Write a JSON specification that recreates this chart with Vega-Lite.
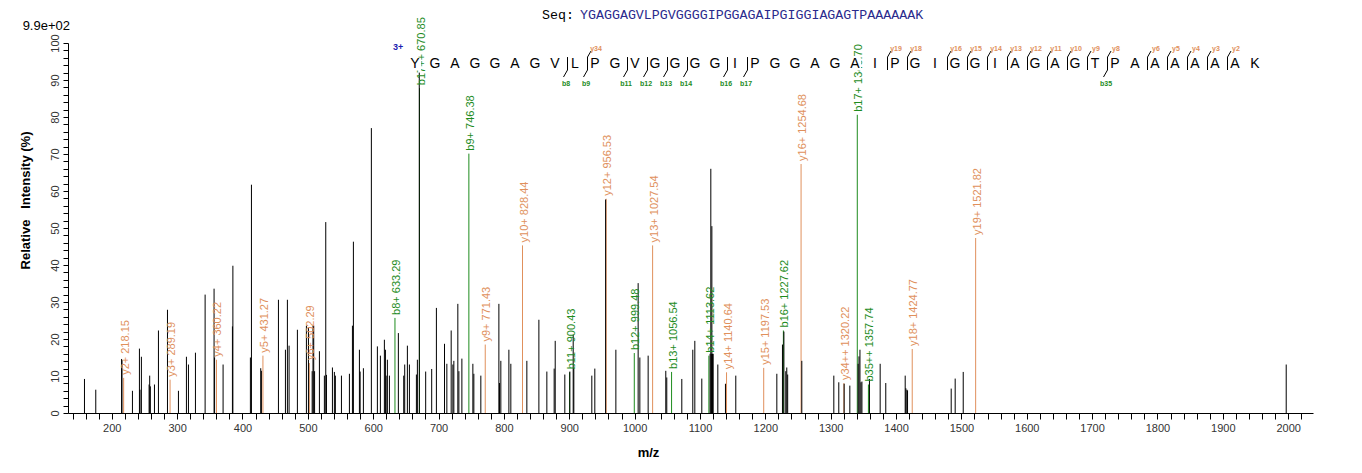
{
  "$schema": "https://vega.github.io/schema/vega-lite/v6.json",
  "width": 1245,
  "height": 370,
  "autosize": {"type": "none"},
  "padding": {"left": 68, "top": 43, "right": 49, "bottom": 60},
  "background": "white",
  "config": {
    "view": {"stroke": null},
    "font": "Liberation Sans",
    "text": {"font": "Liberation Sans"}
  },
  "datasets": {
    "peaks": [
      {"mz": 158.2, "intensity": 9.2}, {"mz": 175.5, "intensity": 6.3}, {"mz": 215.0, "intensity": 14.6}, {"mz": 215.6, "intensity": 14.3},
      {"mz": 231.6, "intensity": 6.0}, {"mz": 242.3, "intensity": 17.4}, {"mz": 243.2, "intensity": 6.3}, {"mz": 245.3, "intensity": 15.2},
      {"mz": 257.1, "intensity": 7.7}, {"mz": 258.0, "intensity": 10.1}, {"mz": 259.0, "intensity": 7.2}, {"mz": 265.3, "intensity": 7.7},
      {"mz": 271.4, "intensity": 22.3}, {"mz": 285.2, "intensity": 27.9}, {"mz": 302.0, "intensity": 6.0}, {"mz": 314.2, "intensity": 15.2},
      {"mz": 317.3, "intensity": 13.1}, {"mz": 328.0, "intensity": 16.3}, {"mz": 342.8, "intensity": 32.0}, {"mz": 356.5, "intensity": 33.6},
      {"mz": 357.3, "intensity": 15.0}, {"mz": 370.3, "intensity": 13.1}, {"mz": 384.6, "intensity": 23.4}, {"mz": 385.3, "intensity": 39.8},
      {"mz": 412.1, "intensity": 15.0}, {"mz": 413.7, "intensity": 61.7}, {"mz": 427.9, "intensity": 12.1}, {"mz": 428.9, "intensity": 11.4},
      {"mz": 455.0, "intensity": 30.6}, {"mz": 465.7, "intensity": 17.1}, {"mz": 468.7, "intensity": 30.6}, {"mz": 471.3, "intensity": 18.2},
      {"mz": 484.0, "intensity": 22.5}, {"mz": 497.8, "intensity": 23.6}, {"mz": 500.9, "intensity": 23.0}, {"mz": 506.6, "intensity": 11.3},
      {"mz": 507.9, "intensity": 23.6}, {"mz": 509.0, "intensity": 23.6}, {"mz": 510.3, "intensity": 11.3}, {"mz": 517.7, "intensity": 16.7},
      {"mz": 525.3, "intensity": 10.1}, {"mz": 527.4, "intensity": 51.6}, {"mz": 528.5, "intensity": 10.3}, {"mz": 537.6, "intensity": 12.3},
      {"mz": 540.6, "intensity": 11.1}, {"mz": 542.1, "intensity": 10.1}, {"mz": 551.4, "intensity": 10.1}, {"mz": 563.6, "intensity": 10.6},
      {"mz": 568.2, "intensity": 23.6}, {"mz": 569.7, "intensity": 46.3}, {"mz": 578.9, "intensity": 17.1}, {"mz": 580.0, "intensity": 11.2},
      {"mz": 585.0, "intensity": 12.1}, {"mz": 597.2, "intensity": 77.0}, {"mz": 606.4, "intensity": 18.0}, {"mz": 611.0, "intensity": 15.5},
      {"mz": 617.1, "intensity": 19.8}, {"mz": 618.7, "intensity": 17.1}, {"mz": 619.8, "intensity": 10.1}, {"mz": 621.7, "intensity": 14.4},
      {"mz": 624.8, "intensity": 10.1}, {"mz": 638.5, "intensity": 21.6}, {"mz": 646.7, "intensity": 10.1}, {"mz": 648.2, "intensity": 13.1},
      {"mz": 652.3, "intensity": 18.2}, {"mz": 655.4, "intensity": 13.1}, {"mz": 666.1, "intensity": 10.4}, {"mz": 667.6, "intensity": 14.4},
      {"mz": 670.5, "intensity": 92.0}, {"mz": 680.3, "intensity": 11.2}, {"mz": 689.5, "intensity": 11.9}, {"mz": 696.7, "intensity": 28.4},
      {"mz": 709.1, "intensity": 18.7}, {"mz": 712.7, "intensity": 13.3}, {"mz": 719.3, "intensity": 22.3}, {"mz": 721.9, "intensity": 13.1},
      {"mz": 723.4, "intensity": 14.1}, {"mz": 729.5, "intensity": 29.5}, {"mz": 731.1, "intensity": 11.3}, {"mz": 735.7, "intensity": 14.7},
      {"mz": 752.5, "intensity": 13.3}, {"mz": 754.0, "intensity": 10.6}, {"mz": 764.7, "intensity": 10.1}, {"mz": 792.3, "intensity": 29.5},
      {"mz": 793.3, "intensity": 8.1}, {"mz": 795.3, "intensity": 14.1}, {"mz": 807.6, "intensity": 17.1}, {"mz": 810.6, "intensity": 13.3},
      {"mz": 835.1, "intensity": 14.1}, {"mz": 853.5, "intensity": 25.2}, {"mz": 865.7, "intensity": 11.2}, {"mz": 876.9, "intensity": 12.0},
      {"mz": 878.5, "intensity": 19.5}, {"mz": 893.2, "intensity": 10.4}, {"mz": 900.9, "intensity": 11.2}, {"mz": 906.0, "intensity": 21.2},
      {"mz": 907.0, "intensity": 12.2}, {"mz": 934.5, "intensity": 10.1}, {"mz": 939.1, "intensity": 12.0}, {"mz": 955.6, "intensity": 57.7},
      {"mz": 971.3, "intensity": 17.1}, {"mz": 1005.4, "intensity": 35.1}, {"mz": 1008.0, "intensity": 15.0}, {"mz": 1020.7, "intensity": 15.5},
      {"mz": 1047.7, "intensity": 11.4}, {"mz": 1049.2, "intensity": 9.6}, {"mz": 1072.2, "intensity": 9.2}, {"mz": 1089.0, "intensity": 17.1},
      {"mz": 1092.1, "intensity": 19.5}, {"mz": 1102.8, "intensity": 9.3}, {"mz": 1115.5, "intensity": 16.0}, {"mz": 1116.6, "intensity": 66.0},
      {"mz": 1117.5, "intensity": 16.0}, {"mz": 1118.2, "intensity": 50.5}, {"mz": 1119.2, "intensity": 16.0}, {"mz": 1120.2, "intensity": 16.0},
      {"mz": 1127.3, "intensity": 13.1}, {"mz": 1139.0, "intensity": 7.9}, {"mz": 1154.8, "intensity": 10.1}, {"mz": 1217.6, "intensity": 10.6},
      {"mz": 1226.2, "intensity": 18.5}, {"mz": 1228.4, "intensity": 22.0}, {"mz": 1231.3, "intensity": 11.3}, {"mz": 1232.8, "intensity": 12.3},
      {"mz": 1234.2, "intensity": 10.4}, {"mz": 1255.8, "intensity": 14.1}, {"mz": 1304.8, "intensity": 10.1}, {"mz": 1312.4, "intensity": 8.3},
      {"mz": 1320.6, "intensity": 7.9}, {"mz": 1329.3, "intensity": 7.4}, {"mz": 1342.0, "intensity": 13.3}, {"mz": 1343.3, "intensity": 15.3},
      {"mz": 1344.8, "intensity": 17.1}, {"mz": 1346.3, "intensity": 8.3}, {"mz": 1347.8, "intensity": 8.5}, {"mz": 1359.3, "intensity": 9.2},
      {"mz": 1375.7, "intensity": 13.3}, {"mz": 1384.3, "intensity": 8.1}, {"mz": 1414.0, "intensity": 10.1}, {"mz": 1415.0, "intensity": 6.7},
      {"mz": 1416.6, "intensity": 6.3}, {"mz": 1417.6, "intensity": 6.1}, {"mz": 1484.4, "intensity": 6.6}, {"mz": 1490.5, "intensity": 9.3},
      {"mz": 1502.8, "intensity": 11.1}, {"mz": 1997.0, "intensity": 13.1}
    ],
    "ions": [
      {"ion": "y2+", "series": "y", "mz": 218.15, "intensity": 9.5},
      {"ion": "y3+", "series": "y", "mz": 289.19, "intensity": 9.0},
      {"ion": "y4+", "series": "y", "mz": 360.22, "intensity": 14.4},
      {"ion": "y5+", "series": "y", "mz": 431.27, "intensity": 15.5},
      {"ion": "y6+", "series": "y", "mz": 502.29, "intensity": 13.5},
      {"ion": "b8+", "series": "b", "mz": 633.29, "intensity": 25.7},
      {"ion": "b17++", "series": "b", "mz": 670.85, "intensity": 87.8},
      {"ion": "b9+", "series": "b", "mz": 746.38, "intensity": 70.1},
      {"ion": "y9+", "series": "y", "mz": 771.43, "intensity": 18.5},
      {"ion": "y10+", "series": "y", "mz": 828.44, "intensity": 45.3},
      {"ion": "b11+", "series": "b", "mz": 900.43, "intensity": 11.0},
      {"ion": "y12+", "series": "y", "mz": 956.53, "intensity": 57.9},
      {"ion": "b12+", "series": "b", "mz": 999.48, "intensity": 16.2},
      {"ion": "y13+", "series": "y", "mz": 1027.54, "intensity": 45.3},
      {"ion": "b13+", "series": "b", "mz": 1056.54, "intensity": 11.1},
      {"ion": "b14+", "series": "b", "mz": 1113.62, "intensity": 15.5},
      {"ion": "y14+", "series": "y", "mz": 1140.64, "intensity": 11.0},
      {"ion": "y15+", "series": "y", "mz": 1197.53, "intensity": 12.2},
      {"ion": "b16+", "series": "b", "mz": 1227.62, "intensity": 22.3},
      {"ion": "y16+", "series": "y", "mz": 1254.68, "intensity": 67.3},
      {"ion": "y34++", "series": "y", "mz": 1320.22, "intensity": 8.1},
      {"ion": "b17+", "series": "b", "mz": 1340.70, "intensity": 80.6},
      {"ion": "b35++", "series": "b", "mz": 1357.74, "intensity": 7.7},
      {"ion": "y18+", "series": "y", "mz": 1424.77, "intensity": 17.3},
      {"ion": "y19+", "series": "y", "mz": 1521.82, "intensity": 47.3}
    ],
    "residues": [
      {"i": 0, "aa": "Y"}, {"i": 1, "aa": "G"}, {"i": 2, "aa": "A"}, {"i": 3, "aa": "G"}, {"i": 4, "aa": "G"},
      {"i": 5, "aa": "A"}, {"i": 6, "aa": "G"}, {"i": 7, "aa": "V"}, {"i": 8, "aa": "L"}, {"i": 9, "aa": "P"},
      {"i": 10, "aa": "G"}, {"i": 11, "aa": "V"}, {"i": 12, "aa": "G"}, {"i": 13, "aa": "G"}, {"i": 14, "aa": "G"},
      {"i": 15, "aa": "G"}, {"i": 16, "aa": "I"}, {"i": 17, "aa": "P"}, {"i": 18, "aa": "G"}, {"i": 19, "aa": "G"},
      {"i": 20, "aa": "A"}, {"i": 21, "aa": "G"}, {"i": 22, "aa": "A"}, {"i": 23, "aa": "I"}, {"i": 24, "aa": "P"},
      {"i": 25, "aa": "G"}, {"i": 26, "aa": "I"}, {"i": 27, "aa": "G"}, {"i": 28, "aa": "G"}, {"i": 29, "aa": "I"},
      {"i": 30, "aa": "A"}, {"i": 31, "aa": "G"}, {"i": 32, "aa": "A"}, {"i": 33, "aa": "G"}, {"i": 34, "aa": "T"},
      {"i": 35, "aa": "P"}, {"i": 36, "aa": "A"}, {"i": 37, "aa": "A"}, {"i": 38, "aa": "A"}, {"i": 39, "aa": "A"},
      {"i": 40, "aa": "A"}, {"i": 41, "aa": "A"}, {"i": 42, "aa": "K"}
    ],
    "cuts": [
      {"site": 8, "ion": "b", "name": "b8"}, {"site": 9, "ion": "b", "name": "b9"}, {"site": 11, "ion": "b", "name": "b11"},
      {"site": 12, "ion": "b", "name": "b12"}, {"site": 13, "ion": "b", "name": "b13"}, {"site": 14, "ion": "b", "name": "b14"},
      {"site": 16, "ion": "b", "name": "b16"}, {"site": 17, "ion": "b", "name": "b17"}, {"site": 35, "ion": "b", "name": "b35"},
      {"site": 9, "ion": "y", "name": "y34"}, {"site": 24, "ion": "y", "name": "y19"}, {"site": 25, "ion": "y", "name": "y18"},
      {"site": 27, "ion": "y", "name": "y16"}, {"site": 28, "ion": "y", "name": "y15"}, {"site": 29, "ion": "y", "name": "y14"},
      {"site": 30, "ion": "y", "name": "y13"}, {"site": 31, "ion": "y", "name": "y12"}, {"site": 32, "ion": "y", "name": "y11"},
      {"site": 33, "ion": "y", "name": "y10"}, {"site": 34, "ion": "y", "name": "y9"}, {"site": 35, "ion": "y", "name": "y8"},
      {"site": 37, "ion": "y", "name": "y6"}, {"site": 38, "ion": "y", "name": "y5"}, {"site": 39, "ion": "y", "name": "y4"},
      {"site": 40, "ion": "y", "name": "y3"}, {"site": 41, "ion": "y", "name": "y2"}
    ]
  },
  "layer": [
    {
      "layer": [
        {
          "data": {"name": "ions"},
          "mark": {"type": "rule", "strokeWidth": 1},
          "encoding": {
            "x": {
              "field": "mz", "type": "quantitative",
              "scale": {"domain": [133, 2038], "nice": false, "zero": false},
              "axis": {
                "values": [140,160,180,200,220,240,260,280,300,320,340,360,380,400,420,440,460,480,500,520,540,560,580,600,620,640,660,680,700,720,740,760,780,800,820,840,860,880,900,920,940,960,980,1000,1020,1040,1060,1080,1100,1120,1140,1160,1180,1200,1220,1240,1260,1280,1300,1320,1340,1360,1380,1400,1420,1440,1460,1480,1500,1520,1540,1560,1580,1600,1620,1640,1660,1680,1700,1720,1740,1760,1780,1800,1820,1840,1860,1880,1900,1920,1940,1960,1980,2000,2020],
                "tickCount": 400,
                "labelExpr": "datum.value % 100 === 0 ? format(datum.value, 'd') : ''",
                "labelOverlap": false, "labelFlush": false, "labelBound": false,
                "grid": false, "domainColor": "#000", "tickColor": "#000", "tickSize": 6,
                "labelFont": "Liberation Sans", "labelFontSize": 11, "labelColor": "#333", "labelPadding": 3,
                "title": "m/z", "titleFont": "Liberation Sans", "titleFontSize": 13, "titleFontWeight": "bold", "titleColor": "#000",
                "titleX": 580, "titleY": 39, "titleAlign": "center", "titleBaseline": "middle"
              }
            },
            "y": {
              "field": "intensity", "type": "quantitative",
              "scale": {"domain": [0, 100], "nice": false},
              "axis": {
                "values": [0,2,4,6,8,10,12,14,16,18,20,22,24,26,28,30,32,34,36,38,40,42,44,46,48,50,52,54,56,58,60,62,64,66,68,70,72,74,76,78,80,82,84,86,88,90,92,94,96,98,100],
                "tickCount": 400,
                "labelExpr": "datum.value % 10 === 0 ? format(datum.value, 'd') : ''",
                "labelOverlap": false, "labelFlush": false, "labelBound": false,
                "grid": false, "domainColor": "#000", "tickColor": "#000", "tickSize": 5,
                "labelFont": "Liberation Sans", "labelFontSize": 11, "labelColor": "#333", "labelPadding": 3,
                "labelAngle": 270, "labelAlign": "center", "labelBaseline": "bottom",
                "title": "Relative\u00a0\u00a0\u00a0Intensity (%)", "titleFont": "Liberation Sans", "titleFontSize": 13, "titleFontWeight": "bold", "titleColor": "#000",
                "titleAngle": 270, "titleX": -43, "titleY": 157, "titleAlign": "center", "titleBaseline": "middle"
              }
            },
            "y2": {"datum": 0},
            "color": {"field": "series", "type": "nominal", "scale": {"domain": ["b", "y"], "range": ["#1e8c1e", "#e0905c"]}, "legend": null}
          }
        },
        {
          "data": {"name": "peaks"},
          "mark": {"type": "rule", "color": "#000", "strokeWidth": 1},
          "encoding": {
            "x": {"field": "mz", "type": "quantitative"},
            "y": {"field": "intensity", "type": "quantitative"},
            "y2": {"datum": 0}
          }
        },
        {
          "data": {"name": "ions"},
          "transform": [{"calculate": "datum.ion + ' ' + format(datum.mz, '.2f')", "as": "label"}],
          "mark": {"type": "text", "angle": 270, "align": "left", "baseline": "middle", "dx": 3, "dy": 2, "fontSize": 11, "font": "Liberation Sans"},
          "encoding": {
            "x": {"field": "mz", "type": "quantitative"},
            "y": {"field": "intensity", "type": "quantitative"},
            "text": {"field": "label"},
            "color": {"field": "series", "type": "nominal", "legend": null}
          }
        },
        {
          "data": {"values": [{}]},
          "mark": {"type": "text", "text": "9.9e+02", "align": "right", "baseline": "middle", "dx": 2, "fontSize": 13, "color": "#000", "font": "Liberation Sans"},
          "encoding": {
            "x": {"datum": 133, "type": "quantitative"},
            "y": {"datum": 104.6, "type": "quantitative"}
          }
        }
      ]
    },
    {
      "layer": [
        {
          "data": {"name": "residues"},
          "mark": {"type": "point", "shape": "square", "filled": true, "color": "white", "opacity": 1, "size": 150},
          "encoding": {
            "x": {"field": "i", "type": "quantitative", "scale": {"domain": [-17.35, 44.9], "nice": false, "zero": false}, "axis": null},
            "y": {"datum": 94.2, "type": "quantitative"}
          }
        },
        {
          "data": {"name": "residues"},
          "mark": {"type": "text", "align": "center", "baseline": "middle", "fontSize": 14, "color": "#000", "font": "Liberation Sans"},
          "encoding": {
            "x": {"field": "i", "type": "quantitative", "axis": null},
            "y": {"datum": 94.2, "type": "quantitative"},
            "text": {"field": "aa"}
          }
        },
        {
          "data": {"name": "cuts"},
          "mark": {"type": "rule", "color": "#000", "strokeWidth": 1, "xOffset": -7.5, "x2Offset": -7.5},
          "encoding": {
            "x": {"field": "site", "type": "quantitative", "axis": null},
            "x2": {"field": "site"},
            "y": {"datum": 96.2, "type": "quantitative"},
            "y2": {"datum": 92.7}
          }
        },
        {
          "data": {"name": "cuts"},
          "transform": [{"filter": "datum.ion === 'b'"}],
          "mark": {"type": "rule", "color": "#000", "strokeWidth": 1, "xOffset": -7.5, "x2Offset": -11.5, "y2Offset": 7},
          "encoding": {
            "x": {"field": "site", "type": "quantitative", "axis": null},
            "x2": {"field": "site"},
            "y": {"datum": 92.7, "type": "quantitative"},
            "y2": {"datum": 92.7}
          }
        },
        {
          "data": {"name": "cuts"},
          "transform": [{"filter": "datum.ion === 'y'"}],
          "mark": {"type": "rule", "color": "#000", "strokeWidth": 1, "xOffset": -7.5, "x2Offset": -4, "y2Offset": -6},
          "encoding": {
            "x": {"field": "site", "type": "quantitative", "axis": null},
            "x2": {"field": "site"},
            "y": {"datum": 96.2, "type": "quantitative"},
            "y2": {"datum": 96.2}
          }
        },
        {
          "data": {"name": "cuts"},
          "transform": [{"filter": "datum.ion === 'b'"}],
          "mark": {"type": "text", "align": "center", "baseline": "middle", "dx": -9, "fontSize": 7, "fontWeight": "bold", "color": "#1e8c1e", "font": "Liberation Sans"},
          "encoding": {
            "x": {"field": "site", "type": "quantitative", "axis": null},
            "y": {"datum": 88.9, "type": "quantitative"},
            "text": {"field": "name"}
          }
        },
        {
          "data": {"name": "cuts"},
          "transform": [{"filter": "datum.ion === 'y'"}],
          "mark": {"type": "text", "align": "center", "baseline": "middle", "dx": 1, "fontSize": 7, "fontWeight": "bold", "color": "#e0905c", "font": "Liberation Sans"},
          "encoding": {
            "x": {"field": "site", "type": "quantitative", "axis": null},
            "y": {"datum": 98.5, "type": "quantitative"},
            "text": {"field": "name"}
          }
        },
        {
          "data": {"values": [{}]},
          "mark": {"type": "text", "text": "3+", "align": "center", "baseline": "middle", "fontSize": 9, "fontWeight": "bold", "color": "#1c1cb0", "font": "Liberation Sans"},
          "encoding": {
            "x": {"datum": -0.85, "type": "quantitative", "axis": null},
            "y": {"datum": 98.9, "type": "quantitative"}
          }
        },
        {
          "data": {"values": [{}]},
          "mark": {"type": "text", "text": "Seq:", "align": "left", "baseline": "middle", "fontSize": 13.3, "color": "#000", "font": "Liberation Mono"},
          "encoding": {
            "x": {"datum": 6.35, "type": "quantitative", "axis": null},
            "y": {"datum": 107.6, "type": "quantitative"}
          }
        },
        {
          "data": {"values": [{}]},
          "mark": {"type": "text", "text": "YGAGGAGVLPGVGGGGIPGGAGAIPGIGGIAGAGTPAAAAAAK", "align": "left", "baseline": "middle", "fontSize": 13.3, "color": "#2a2a8c", "font": "Liberation Mono"},
          "encoding": {
            "x": {"datum": 8.25, "type": "quantitative", "axis": null},
            "y": {"datum": 107.6, "type": "quantitative"}
          }
        }
      ]
    }
  ],
  "resolve": {"scale": {"x": "independent"}, "axis": {"x": "independent"}}
}
